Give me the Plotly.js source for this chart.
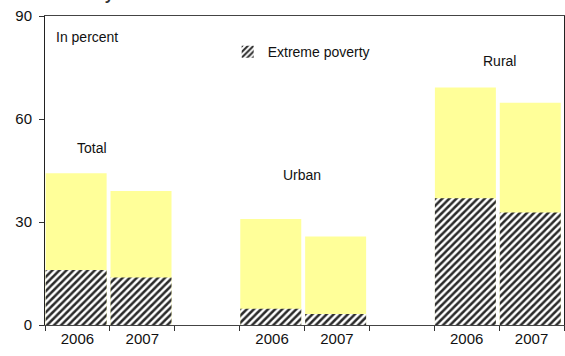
<!DOCTYPE html>
<html>
<head>
<meta charset="utf-8">
<script src="https://cdn.plot.ly/plotly-3.0.1.min.js"></script>
<style>html,body{margin:0;padding:0;background:#fff;}#chart{width:565px;height:356px;}</style>
</head>
<body>
<div id="chart"></div>
<script>
// Data
var categories = ["T2006", "T2007", "gap1", "U2006", "U2007", "gap2", "R2006", "R2007"];
var tickLabels = ["2006", "2007", "", "2006", "2007", "", "2006", "2007"];
var povertyTotal = [44.2, 39.0, null, 30.9, 25.8, null, 69.2, 64.7];
var extremePoverty = [16.0, 13.8, null, 4.7, 3.2, null, 36.9, 32.8];
var groupLabels = ["Total", "Urban", "Rural"];

var font = "Arial, 'Liberation Sans', sans-serif";

var traces = [
  {
    type: "bar", x: categories, y: povertyTotal, name: "Poverty",
    marker: {color: "#FFFF99", line: {width: 0}},
    width: 0.94, offset: -0.49, showlegend: false, hoverinfo: "skip"
  },
  {
    type: "bar", x: categories, y: extremePoverty, name: "Extreme poverty",
    marker: {color: "#ffffff", line: {width: 0},
      pattern: {shape: "/", fgcolor: "#2a2a2a", bgcolor: "#ffffff", size: 5, solidity: 0.5}},
    width: 0.94, offset: -0.49
  }
];

var layout = {
  width: 565, height: 356,
  margin: {l: 45, r: 1, t: 16, b: 31},
  paper_bgcolor: "#fff", plot_bgcolor: "#fff",
  barmode: "overlay",
  font: {family: font, size: 14, color: "#111"},
  showlegend: true,
  legend: {x: 0.352, y: 0.935, xanchor: "left", yanchor: "top", bgcolor: "rgba(0,0,0,0)",
    font: {size: 14, color: "#111"}, itemwidth: 30},
  xaxis: {
    type: "category", categoryorder: "array", categoryarray: categories,
    tickmode: "array", tickvals: categories, ticktext: tickLabels,
    tickson: "boundaries", ticks: "outside", ticklen: 5, tickcolor: "#333",
    showline: true, linecolor: "#444", linewidth: 1, mirror: true,
    showgrid: false, zeroline: false, range: [-0.5, 7.5],
    tickfont: {size: 15, color: "#111"}
  },
  yaxis: {
    range: [0, 90], tickvals: [0, 30, 60, 90], ticks: "outside", ticklen: 5, tickcolor: "#333",
    showline: true, linecolor: "#222", linewidth: 1, mirror: true, ticklabelstandoff: 4,
    showgrid: false, zeroline: false, tickfont: {size: 15, color: "#111"}
  },
  annotations: [
    {text: "<b>Poverty rates</b>", xref: "paper", yref: "paper", x: 0.015, y: 1.036,
      xanchor: "left", yanchor: "bottom", showarrow: false, font: {size: 16, color: "#333"}},
    {text: "In percent", xref: "paper", yref: "paper", x: 0.017, y: 0.932,
      xanchor: "left", yanchor: "middle", showarrow: false, font: {size: 14}},
    {text: groupLabels[0], xref: "paper", yref: "paper", x: 0.090, y: 0.573,
      xanchor: "center", yanchor: "middle", showarrow: false, font: {size: 14}},
    {text: groupLabels[1], xref: "paper", yref: "paper", x: 0.496, y: 0.485,
      xanchor: "center", yanchor: "middle", showarrow: false, font: {size: 14}},
    {text: groupLabels[2], xref: "paper", yref: "paper", x: 0.875, y: 0.854,
      xanchor: "center", yanchor: "middle", showarrow: false, font: {size: 14}}
  ]
};

Plotly.newPlot("chart", traces, layout, {displayModeBar: false, staticPlot: true});
</script>
</body>
</html>
